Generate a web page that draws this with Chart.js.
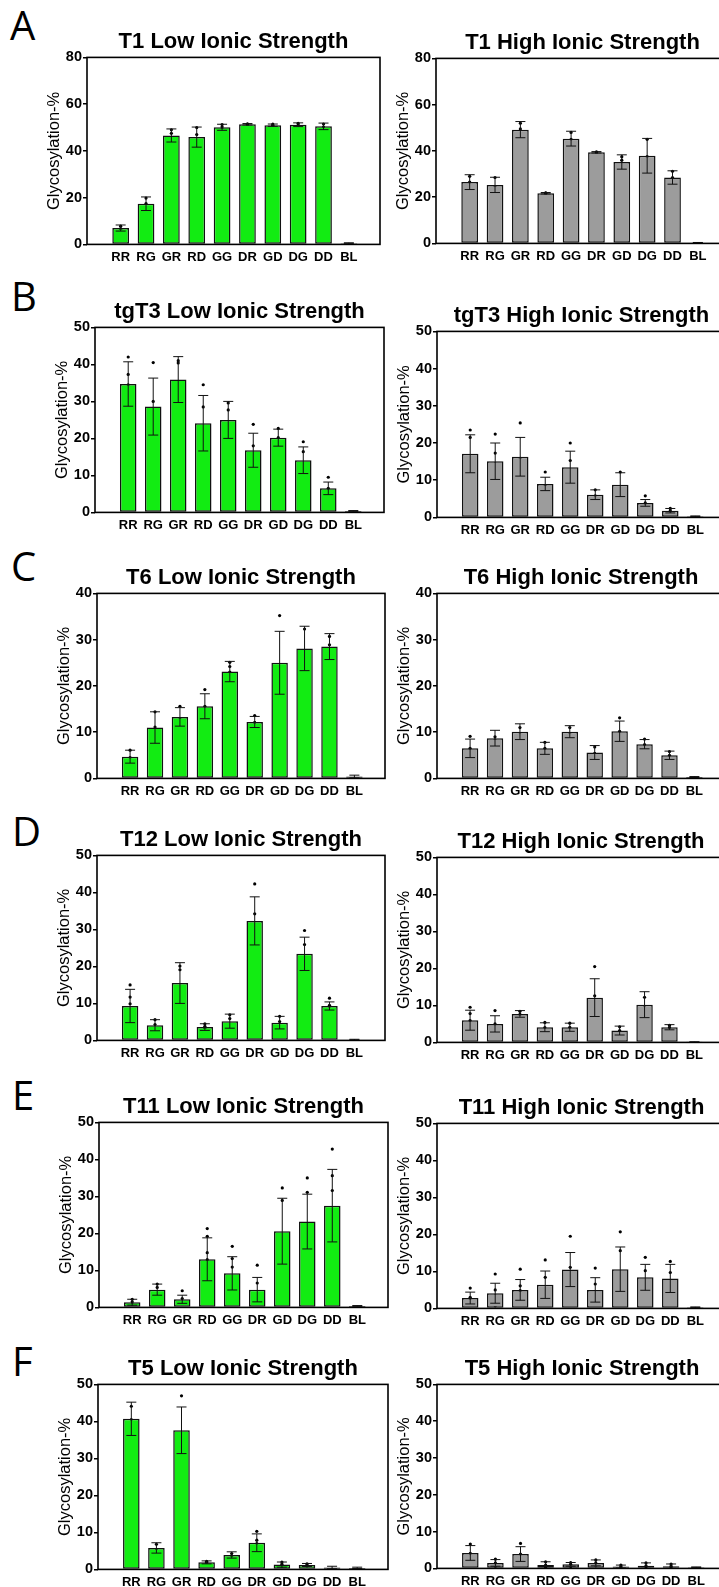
<!DOCTYPE html>
<html>
<head>
<meta charset="utf-8">
<script src="https://cdn.jsdelivr.net/npm/chart.js@4"></script>
<style>
  html, body { margin: 0; padding: 0; background: #fff; }
  body { width: 719px; height: 1587px; position: relative; overflow: hidden; }
  .letter { position: absolute; font-family: "Open Sans", "Noto Sans", sans-serif; font-size: 40px; line-height: 1; color: #000; }
  .panel { position: absolute; }
</style>
</head>
<body>
<script>
const categories = ['RR', 'RG', 'GR', 'RD', 'GG', 'DR', 'GD', 'DG', 'DD', 'BL'];

// A - T1
const t1LowMean = [7.0, 17.4, 46.6, 45.9, 50.1, 51.4, 51.0, 51.2, 50.5, 0.5];
const t1LowSd = [1.3, 2.9, 2.8, 4.3, 1.3, 0.3, 0.5, 0.8, 1.4, 0.2];
const t1LowPoints = [[7.8, 6.5, 6.6], [19.8, 17.5, 15.0], [49, 47.5, 43.5], [50, 47, 40.5], [51.3, 50.3, 49.3], [51.6, 51.4, 51.2], [51.5, 51, 50.6], [51.8, 51, 50.7], [51.5, 50.2, 49.5], []];
const t1HighMean = [26.5, 25.3, 49.2, 21.7, 45.3, 39.4, 35.2, 37.9, 28.5, 0.3];
const t1HighSd = [3.2, 3.3, 3.5, 0.3, 3.2, 0.3, 3.1, 7.5, 2.9, 0.1];
const t1HighPoints = [[29, 26.5, 24], [28.5, 24.5, 22.8], [52, 49.5, 46], [21.9, 21.7, 21.5], [48, 45, 43], [39.6, 39.3, 39.2], [37.5, 36, 32.2], [45, 37.5, 31], [31.2, 28.5, 26.5], []];

// B - tgT3
const tgt3LowMean = [34.7, 28.6, 35.9, 24.1, 25.0, 16.8, 20.2, 14.1, 6.5, 0.4];
const tgt3LowSd = [6.0, 7.7, 6.2, 7.5, 5.0, 4.6, 2.3, 3.6, 1.7, 0.1];
const tgt3LowPoints = [[42, 37.3, 34.5, 25.5], [40.5, 30, 24, 20.2], [41, 40.4, 32.6, 28.4], [34.5, 28.5, 23, 18.5, 16.5], [29.6, 27.7, 23.3, 17.3], [23.8, 18, 13.5, 11.9], [22.7, 20.2, 18.5], [19.1, 16.4, 12.3, 10.5], [9.5, 6.5, 4.9], []];
const tgt3HighMean = [17.1, 15.1, 16.3, 9.0, 13.5, 6.1, 8.8, 3.9, 1.8, 0.3];
const tgt3HighSd = [5.1, 4.9, 5.2, 1.8, 4.3, 1.3, 3.2, 0.9, 0.6, 0.1];
const tgt3HighPoints = [[23.5, 21.5, 15.3, 12.6], [22.4, 17.3, 14.4, 11.2], [25.4, 15.9, 14.8, 12.6], [12.2, 8.5, 7.6], [20, 15.3, 12.3, 10.8], [7.4, 5.8, 4.9], [12.2, 5.7], [5.8, 3.9, 3.1], [2.4, 1.8, 1.2], []];

// C - T6
const t6LowMean = [4.7, 11.0, 13.3, 15.6, 23.1, 12.2, 25.0, 28.1, 28.5, 0.4];
const t6LowSd = [1.4, 3.4, 2.0, 2.7, 2.2, 1.2, 6.8, 4.8, 2.8, 0.3];
const t6LowPoints = [[6.1, 4.5, 3.4], [14.4, 11.1, 9.5, 7.5], [15.6, 12.8, 11.3], [19.2, 15.6, 14.4, 12.8], [25.1, 24.2, 23, 20], [13.6, 12.1, 11.1], [35.2, 23.2, 21], [32.3, 25.5, 23], [30.7, 28.9, 24.4], []];
const t6HighMean = [6.5, 8.7, 10.1, 6.5, 10.1, 5.6, 10.2, 7.4, 5.0, 0.3];
const t6HighSd = [2.0, 1.7, 1.7, 1.3, 1.3, 1.5, 2.2, 1.0, 0.9, 0.1];
const t6HighPoints = [[9.1, 6.5, 4.3], [9, 8.3, 6.8], [11, 9.5, 8.4], [7.8, 6.5, 5.4], [11, 9.7, 8.8], [6.8, 5.4, 4.1], [13.1, 10.2, 8], [8.5, 7.3, 6.4], [5.8, 5, 4.2], []];

// D - T12
const t12LowMean = [9.3, 4.1, 15.5, 3.6, 5.2, 32.3, 4.8, 23.4, 9.3, 0.2];
const t12LowSd = [4.5, 1.5, 5.5, 0.9, 1.9, 6.5, 1.7, 4.5, 1.1, 0.1];
const t12LowPoints = [[15, 11.7, 9.9, 5], [5.6, 4.3, 2.5], [20.1, 19.1, 9, 7.9], [4.5, 3.8, 3.3], [6.9, 5.9, 2.3], [42.3, 34.2, 30.6, 24.3], [6.5, 5.1, 1.8], [29.7, 25.9, 19.1], [11.4, 9.5, 8.6], []];
const t12HighMean = [6.0, 5.0, 7.7, 4.1, 4.1, 12.1, 3.2, 10.2, 4.1, 0.1];
const t12HighSd = [2.7, 2.2, 0.9, 1.2, 1.1, 5.1, 1.2, 3.5, 0.7, 0.05];
const t12HighPoints = [[9.5, 7.8, 5.9, 3.3], [8.6, 5, 3], [8.4, 7.6, 7], [5.4, 4, 3.2], [5.2, 4.1, 3.1], [20.5, 12.6, 10.4, 8.6], [4.2, 3.2, 2.1], [12.2, 9.6, 7.8, 5.4], [4.6, 4, 3.5], []];

// E - T11
const t11LowMean = [1.4, 4.8, 2.2, 13.0, 9.2, 4.8, 20.6, 23.2, 27.5, 0.4];
const t11LowSd = [0.8, 1.5, 1.1, 5.8, 4.5, 3.3, 8.9, 7.4, 9.8, 0.1];
const t11LowPoints = [[2.2, 1.5, 0.8], [6.3, 5.4, 3.3], [4.5, 2.4, 1.1], [21.3, 19.2, 14.8, 12.9, 9.3, 6.7], [16.5, 13.2, 10.9, 7.5, 4.8], [11.4, 6.6, 2.4], [32.3, 28.9, 18.1, 15.9, 12.9, 8.7], [35, 31.1, 21.7, 19.9, 13.6], [42.8, 35.6, 31.6, 25.8, 24.6, 15.2], []];
const t11HighMean = [2.8, 4.1, 5.0, 6.4, 10.5, 5.0, 10.6, 8.4, 8.1, 0.3];
const t11HighSd = [1.6, 2.7, 2.8, 3.7, 4.6, 3.3, 6.0, 3.5, 3.8, 0.1];
const t11HighPoints = [[5.5, 3, 2.1, 1.2], [9.3, 5, 3.4, 0.7], [10.6, 6.1, 4.8, 3], [13.1, 8.4, 5.2, 1.6], [19.5, 11.1, 9.5, 6.6], [10.9, 6.6, 3.9, 1.6], [20.7, 15.6, 9.3, 5.7], [13.8, 10.2, 7.5, 3.4], [12.7, 9.7, 6.6, 2.8], []];

// F - T5
const t5LowMean = [40.7, 5.8, 37.6, 1.9, 3.9, 7.2, 1.3, 1.2, 0.5, 0.4];
const t5LowSd = [4.5, 1.4, 6.3, 0.4, 0.85, 2.4, 0.7, 0.4, 0.35, 0.2];
const t5LowPoints = [[44.1, 40.5, 34.9], [6.8, 5.2, 4.5], [46.9, 36.7, 35.8, 33.8], [2.2, 1.9, 1.6], [4.3, 3.6, 2.9], [10.3, 7.9, 7, 4.8], [2, 1.4, 0.8], [1.5, 1.2, 0.9], [], []];
const t5HighMean = [4.2, 1.5, 3.9, 0.9, 1.1, 1.5, 0.5, 0.7, 0.6, 0.3];
const t5HighSd = [2.0, 0.9, 2.0, 0.9, 0.5, 0.8, 0.4, 0.8, 0.6, 0.1];
const t5HighPoints = [[6.6, 4.1, 2.4], [2.5, 1.5, 0.6], [6.8, 3.9, 2.3], [1.8, 0.9, 0.2], [1.6, 1.1, 0.5], [2.3, 1.5, 0.7], [0.9, 0.5, 0.1], [1.5, 0.7, 0.1], [1.2, 0.6, 0.1], []];

const GREEN = '#12ec12';
const GREY = '#9c9c9c';

const panels = [
  { title: 'T1 Low Ionic Strength', mean: t1LowMean, sd: t1LowSd, pts: t1LowPoints, color: GREEN, yMax: 80, step: 20, box: [87, 57, 381, 244] },
  { title: 'T1 High Ionic Strength', mean: t1HighMean, sd: t1HighSd, pts: t1HighPoints, color: GREY, yMax: 80, step: 20, box: [436, 58, 730, 243] },
  { title: 'tgT3 Low Ionic Strength', mean: tgt3LowMean, sd: tgt3LowSd, pts: tgt3LowPoints, color: GREEN, yMax: 50, step: 10, box: [95, 327, 385, 512] },
  { title: 'tgT3 High Ionic Strength', mean: tgt3HighMean, sd: tgt3HighSd, pts: tgt3HighPoints, color: GREY, yMax: 50, step: 10, box: [437, 331, 727, 517] },
  { title: 'T6 Low Ionic Strength', mean: t6LowMean, sd: t6LowSd, pts: t6LowPoints, color: GREEN, yMax: 40, step: 10, box: [97, 593, 386, 778] },
  { title: 'T6 High Ionic Strength', mean: t6HighMean, sd: t6HighSd, pts: t6HighPoints, color: GREY, yMax: 40, step: 10, box: [437, 593, 726, 778] },
  { title: 'T12 Low Ionic Strength', mean: t12LowMean, sd: t12LowSd, pts: t12LowPoints, color: GREEN, yMax: 50, step: 10, box: [97, 855, 386, 1040] },
  { title: 'T12 High Ionic Strength', mean: t12HighMean, sd: t12HighSd, pts: t12HighPoints, color: GREY, yMax: 50, step: 10, box: [437, 857, 726, 1042] },
  { title: 'T11 Low Ionic Strength', mean: t11LowMean, sd: t11LowSd, pts: t11LowPoints, color: GREEN, yMax: 50, step: 10, box: [99, 1122, 389, 1307] },
  { title: 'T11 High Ionic Strength', mean: t11HighMean, sd: t11HighSd, pts: t11HighPoints, color: GREY, yMax: 50, step: 10, box: [437, 1123, 727, 1308] },
  { title: 'T5 Low Ionic Strength', mean: t5LowMean, sd: t5LowSd, pts: t5LowPoints, color: GREEN, yMax: 50, step: 10, box: [98, 1384, 389, 1569] },
  { title: 'T5 High Ionic Strength', mean: t5HighMean, sd: t5HighSd, pts: t5HighPoints, color: GREY, yMax: 50, step: 10, box: [437, 1384, 728, 1568] }
];

const letters = [
  { text: 'A', left: 10, top: 5 },
  { text: 'B', left: 11, top: 276 },
  { text: 'C', left: 11, top: 546 },
  { text: 'D', left: 12, top: 811 },
  { text: 'E', left: 12, top: 1075 },
  { text: 'F', left: 12, top: 1341 }
];

const FONT = "'Liberation Sans', Arial, sans-serif";
Chart.defaults.color = '#000';
Chart.defaults.font.family = FONT;

const Y_AXIS_W = 42;
const TITLE_H = 22 * 1.2 + 2;
const X_AXIS_H = 28;
const PAD_R = 3;

// box around the plot area, drawn on top of the bars like in Prism
const framePlugin = {
  id: 'frame',
  afterDatasetsDraw(chart) {
    const { ctx, chartArea: a } = chart;
    ctx.save();
    ctx.strokeStyle = '#000';
    ctx.lineWidth = 1.6;
    ctx.strokeRect(a.left, a.top, a.right - a.left, a.bottom - a.top);
    ctx.restore();
  }
};

// mean +/- SD whiskers, drawn right after the bar dataset
const errorBarPlugin = {
  id: 'errorBars',
  afterDatasetDraw(chart, args) {
    if (args.index !== 0) return;
    const ds = chart.data.datasets[0];
    const { ctx, scales: { x, y } } = chart;
    ctx.save();
    ctx.strokeStyle = '#111';
    ctx.lineWidth = 1;
    ds.data.forEach((d, i) => {
      const sd = ds.errors[i];
      if (!sd) return;
      const px = x.getPixelForValue(d.x);
      const top = y.getPixelForValue(d.y + sd);
      const bot = y.getPixelForValue(Math.max(0, d.y - sd));
      ctx.beginPath();
      ctx.moveTo(px, top); ctx.lineTo(px, bot);
      ctx.moveTo(px - 5, top); ctx.lineTo(px + 5, top);
      ctx.moveTo(px - 5, bot); ctx.lineTo(px + 5, bot);
      ctx.stroke();
    });
    ctx.restore();
  }
};

function makePanel(p) {
  const [x0, y0, x1, y1] = p.box;
  const wrap = document.createElement('div');
  wrap.className = 'panel';
  wrap.style.left = (x0 - Y_AXIS_W) + 'px';
  wrap.style.top = (y0 - TITLE_H) + 'px';
  wrap.style.width = (x1 - x0 + Y_AXIS_W + PAD_R) + 'px';
  wrap.style.height = (TITLE_H + (y1 - y0) + X_AXIS_H) + 'px';
  const canvas = document.createElement('canvas');
  wrap.appendChild(canvas);
  document.body.appendChild(wrap);

  const barData = p.mean.map((v, i) => ({ x: i, y: v }));
  const dotData = p.pts.flatMap((arr, i) => arr.map(v => ({ x: i, y: v })));

  new Chart(canvas, {
    type: 'bar',
    data: {
      datasets: [
        {
          type: 'bar',
          data: barData,
          errors: p.sd,
          backgroundColor: p.color,
          borderColor: '#111',
          borderWidth: 1.5,
          borderSkipped: false,
          categoryPercentage: 1,
          barPercentage: 0.66
        },
        {
          type: 'scatter',
          data: dotData,
          pointRadius: 1.6,
          pointBackgroundColor: '#000',
          pointBorderWidth: 0
        }
      ]
    },
    options: {
      responsive: true,
      maintainAspectRatio: false,
      animation: false,
      layout: { padding: { left: 0, right: PAD_R, top: 0, bottom: 0 } },
      plugins: {
        legend: { display: false },
        tooltip: { enabled: false },
        title: {
          display: true,
          fullSize: false,
          text: p.title,
          font: { size: 22, weight: 'bold', family: FONT },
          padding: { top: 0, bottom: 2 }
        }
      },
      scales: {
        x: {
          type: 'linear',
          min: -0.75,
          max: 9.65,
          grid: { display: false, drawTicks: false },
          border: { display: false },
          afterBuildTicks: s => { s.ticks = categories.map((c, i) => ({ value: i })); },
          afterFit: s => { s.height = X_AXIS_H; },
          ticks: {
            autoSkip: false,
            maxRotation: 0,
            padding: 5,
            font: { size: 13, weight: 'bold', family: FONT },
            callback: v => categories[v]
          }
        },
        y: {
          min: 0,
          max: p.yMax,
          afterFit: s => { s.width = Y_AXIS_W; },
          grid: { drawOnChartArea: false, tickLength: 4, color: '#000', lineWidth: 1.5 },
          border: { display: false },
          ticks: {
            stepSize: p.step,
            padding: 1,
            font: { size: 14.5, weight: 'bold', family: FONT }
          },
          title: {
            display: true,
            text: 'Glycosylation-%',
            padding: 0,
            font: { size: 16.5, family: FONT }
          }
        }
      }
    },
    plugins: [framePlugin, errorBarPlugin]
  });
}

letters.forEach(l => {
  const d = document.createElement('div');
  d.className = 'letter';
  d.textContent = l.text;
  d.style.left = l.left + 'px';
  d.style.top = l.top + 'px';
  document.body.appendChild(d);
});

panels.forEach(makePanel);
</script>
</body>
</html>
